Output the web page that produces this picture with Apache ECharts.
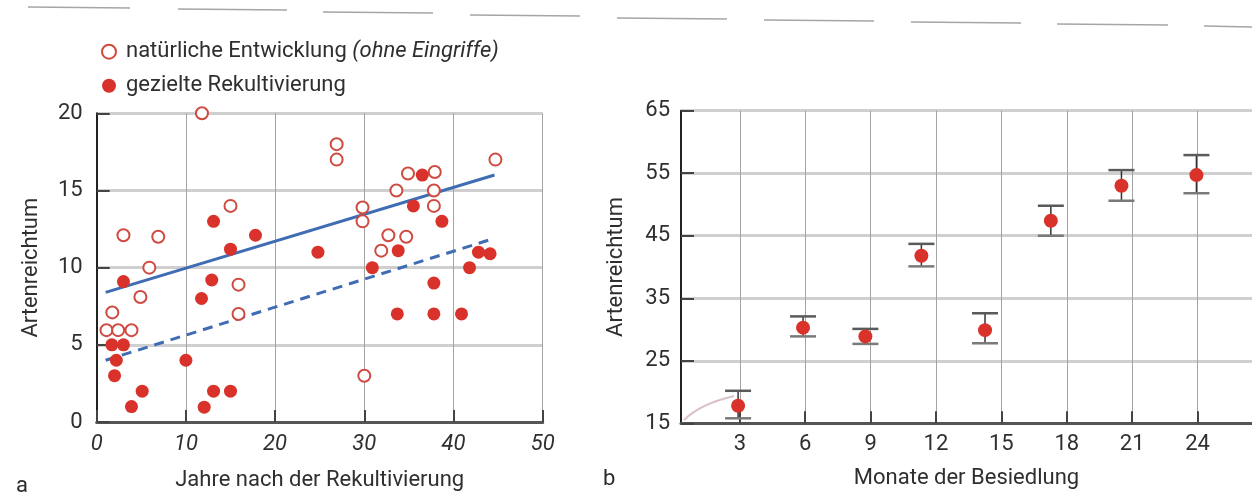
<!DOCTYPE html>
<html>
<head>
<meta charset="utf-8">
<script src="https://cdn.jsdelivr.net/npm/echarts@6/dist/echarts.min.js"></script>
<style>
  html, body { margin: 0; padding: 0; background: #fff; }
  #chart { width: 1252px; height: 496px; }
</style>
</head>
<body>
<div id="chart"></div>
<script>
// ---- Panel a: species richness vs. years after reclamation ----
const legendNatural = 'natürliche Entwicklung (ohne Eingriffe)';
const legendRekult = 'gezielte Rekultivierung';

const naturalYears = [11.8, 15.0, 3.0, 6.9, 5.9, 4.9, 15.9, 15.9, 1.75, 1.1, 2.4, 3.9,
  26.9, 26.9, 44.7, 34.9, 37.9, 33.6, 37.8, 29.8, 29.8, 37.8, 32.7, 34.7, 31.9, 30.0];
const naturalSpecies = [20.0, 14.0, 12.1, 12.0, 10.0, 8.1, 8.9, 7.0, 7.1, 5.95, 5.95, 5.95,
  18.0, 17.0, 17.0, 16.1, 16.2, 15.0, 15.0, 13.9, 13.0, 14.0, 12.1, 12.0, 11.1, 3.0];

const rekultYears = [13.1, 17.8, 15.0, 3.0, 12.9, 11.75, 1.7, 3.0, 2.2, 2.0, 10.0, 5.1, 3.9,
  13.1, 15.0, 12.05, 24.8, 36.5, 35.5, 38.7, 33.8, 30.9, 42.8, 44.1, 41.8, 37.8, 33.7, 37.8, 40.9];
const rekultSpecies = [13.0, 12.1, 11.2, 9.1, 9.2, 8.0, 5.0, 5.0, 4.0, 3.0, 4.0, 2.0, 1.0,
  2.0, 2.0, 0.96, 11.0, 16.0, 14.0, 13.0, 11.1, 10.0, 11.0, 10.9, 10.0, 9.0, 7.0, 7.0, 7.0];

// regression line end points (years, species)
const trendNaturalX = [1.0, 44.6];
const trendNaturalY = [8.4, 16.0];
const trendRekultX = [1.0, 44.6];
const trendRekultY = [4.0, 11.9];

const yearTicks = [0, 10, 20, 30, 40, 50];
const speciesTicksA = [0, 5, 10, 15, 20];

// ---- Panel b: species richness over months of colonisation ----
const monthPositions = [2.92, 5.9, 8.76, 11.33, 14.25, 17.27, 20.51, 23.95];
const richnessMean = [17.8, 30.3, 28.9, 41.8, 29.9, 47.4, 53.0, 54.7];
const richnessLower = [15.8, 28.9, 27.7, 40.1, 27.8, 45.0, 50.6, 51.8];
const richnessUpper = [20.2, 32.1, 30.1, 43.7, 32.6, 49.8, 55.5, 57.9];
const monthTicks = [3, 6, 9, 12, 15, 18, 21, 24];
const speciesTicksB = [15, 25, 35, 45, 55, 65];

const FONT = 'Roboto';
const FS = 22;
const TEXT = '#2f2f2f';
const RED = '#d8322a';
const OPEN_RED = '#cf4a40';
const BLUE = '#3f6cb3';

const zip = (xs, ys) => xs.map((x, i) => [x, ys[i]]);

const gridLineH = { show: true, lineStyle: { color: '#cfcfcf', width: 3 } };
const gridLineV = { show: true, lineStyle: { color: '#a3a3a3', width: 1 } };
const nameStyle = { fontFamily: FONT, fontSize: FS, color: TEXT };

const chart = echarts.init(document.getElementById('chart'), null, { renderer: 'canvas' });

// faint dashed rule across the page head
const headRule = [
  [28, 130, 7], [178, 287, 9], [323, 433, 12], [470, 580, 15],
  [617, 727, 18], [764, 874, 20], [911, 1021, 22], [1057, 1168, 24], [1204, 1252, 26]
];

chart.setOption({
  animation: false,
  backgroundColor: '#fff',
  textStyle: { fontFamily: FONT, color: TEXT },
  legend: {
    orient: 'vertical',
    left: 96,
    top: 35.7,
    itemWidth: 14,
    itemHeight: 14,
    itemGap: 12,
    data: [legendNatural, legendRekult],
    formatter: (name) => {
      const k = name.indexOf(' (');
      return k > 0 ? '{n|' + name.slice(0, k + 1) + '}{i|' + name.slice(k + 1) + '}' : '{n|' + name + '}';
    },
    textStyle: {
      fontFamily: FONT,
      fontSize: FS,
      color: TEXT,
      padding: [0, 0, 0, 5],
      rich: {
        n: { fontFamily: FONT, fontSize: FS, color: TEXT, lineHeight: 22 },
        i: { fontFamily: FONT, fontSize: FS, color: TEXT, fontStyle: 'italic', lineHeight: 22 }
      }
    }
  },
  grid: [
    { left: 96.7, top: 113.3, width: 446, height: 311.7 },
    { left: 681, top: 110.7, width: 571, height: 312.6 }
  ],
  xAxis: [
    {
      type: 'value', gridIndex: 0, min: 0, max: 50, interval: 10,
      name: 'Jahre nach der Rekultivierung', nameLocation: 'middle', nameGap: 47,
      nameTextStyle: nameStyle,
      axisLine: { show: true, lineStyle: { color: '#555', width: 3 } },
      axisTick: { show: true, inside: true, length: 12, lineStyle: { color: '#444', width: 2 } },
      axisLabel: { margin: 11, fontFamily: FONT, fontSize: FS, color: TEXT, fontStyle: 'italic',
        customValues: yearTicks },
      splitLine: gridLineV
    },
    {
      type: 'value', gridIndex: 1, min: 0.3, max: 26.5,
      name: 'Monate der Besiedlung', nameLocation: 'middle', nameGap: 44,
      nameTextStyle: nameStyle,
      axisLine: { show: true, lineStyle: { color: '#555', width: 3 } },
      axisTick: { show: true, inside: true, length: 12, lineStyle: { color: '#444', width: 2 },
        customValues: monthTicks },
      axisLabel: { margin: 10, fontFamily: FONT, fontSize: FS, color: TEXT, customValues: monthTicks },
      splitLine: gridLineV
    }
  ],
  yAxis: [
    {
      type: 'value', gridIndex: 0, min: 0, max: 20, interval: 5,
      name: 'Artenreichtum', nameLocation: 'middle', nameGap: 54, nameRotate: 90,
      nameTextStyle: nameStyle,
      axisLine: { show: true, lineStyle: { color: '#222', width: 2 } },
      axisTick: { show: true, inside: true, length: 13, lineStyle: { color: '#444', width: 2 } },
      axisLabel: { margin: 14, fontFamily: FONT, fontSize: FS, color: TEXT, customValues: speciesTicksA },
      splitLine: gridLineH
    },
    {
      type: 'value', gridIndex: 1, min: 15, max: 65,
      name: 'Artenreichtum', nameLocation: 'middle', nameGap: 54, nameRotate: 90,
      nameTextStyle: nameStyle,
      axisLine: { show: true, lineStyle: { color: '#222', width: 2 } },
      axisTick: { show: true, inside: true, length: 13, lineStyle: { color: '#444', width: 2 },
        customValues: speciesTicksB },
      axisLabel: { margin: 11, fontFamily: FONT, fontSize: FS, color: TEXT, customValues: speciesTicksB },
      splitLine: gridLineH
    }
  ],
  series: [
    {
      name: 'trend natural', type: 'line', xAxisIndex: 0, yAxisIndex: 0,
      data: zip(trendNaturalX, trendNaturalY), showSymbol: false, symbol: 'none',
      lineStyle: { color: BLUE, width: 3 }, z: 3, silent: true
    },
    {
      name: 'trend rekult', type: 'line', xAxisIndex: 0, yAxisIndex: 0,
      data: zip(trendRekultX, trendRekultY), showSymbol: false, symbol: 'none',
      lineStyle: { color: BLUE, width: 3, type: [10, 7] }, z: 3, silent: true
    },
    {
      name: legendNatural, type: 'scatter', xAxisIndex: 0, yAxisIndex: 0,
      data: zip(naturalYears, naturalSpecies), symbol: 'circle', symbolSize: 12,
      itemStyle: { color: '#fff', borderColor: OPEN_RED, borderWidth: 2, opacity: 1 }, z: 4
    },
    {
      name: legendRekult, type: 'scatter', xAxisIndex: 0, yAxisIndex: 0,
      data: zip(rekultYears, rekultSpecies), symbol: 'circle', symbolSize: 13,
      itemStyle: { color: RED, opacity: 1 }, z: 5
    },
    {
      name: 'error', type: 'custom', xAxisIndex: 1, yAxisIndex: 1,
      data: monthPositions.map((m, i) => [m, richnessLower[i], richnessUpper[i]]),
      encode: { x: 0, y: [1, 2] },
      renderItem: (params, api) => {
        const x = api.value(0);
        const lo = api.coord([x, api.value(1)]);
        const hi = api.coord([x, api.value(2)]);
        const half = 13;
        return {
          type: 'group',
          children: [
            { type: 'line', shape: { x1: lo[0], y1: lo[1], x2: hi[0], y2: hi[1] },
              style: { stroke: '#333', lineWidth: 1.5 } },
            { type: 'line', shape: { x1: hi[0] - half, y1: hi[1], x2: hi[0] + half, y2: hi[1] },
              style: { stroke: '#5a5a5a', lineWidth: 2.5 } },
            { type: 'line', shape: { x1: lo[0] - half, y1: lo[1], x2: lo[0] + half, y2: lo[1] },
              style: { stroke: '#7a7a7a', lineWidth: 2.5 } }
          ]
        };
      },
      z: 3, silent: true
    },
    {
      name: 'mean', type: 'scatter', xAxisIndex: 1, yAxisIndex: 1,
      data: zip(monthPositions, richnessMean), symbol: 'circle', symbolSize: 14,
      itemStyle: { color: RED, opacity: 1 }, z: 5
    }
  ],
  graphic: [
    ...headRule.map(([x1, x2, y]) => ({
      type: 'line', shape: { x1, y1: y, x2, y2: y + 1 },
      style: { stroke: '#a5a5a5', lineWidth: 1.5 }, silent: true
    })),
    { type: 'text', left: 16, top: 475,
      style: { text: 'a', fontFamily: FONT, fontSize: FS, fill: '#2a2a2a' } },
    { type: 'text', left: 603, top: 468,
      style: { text: 'b', fontFamily: FONT, fontSize: FS, fill: '#2a2a2a' } },
    { type: 'bezierCurve',
      shape: { x1: 684, y1: 420, cpx1: 700, cpy1: 404, x2: 734, y2: 396 },
      style: { stroke: 'rgba(214, 180, 196, 0.85)', lineWidth: 2, fill: null }, silent: true }
  ]
});
</script>
</body>
</html>
